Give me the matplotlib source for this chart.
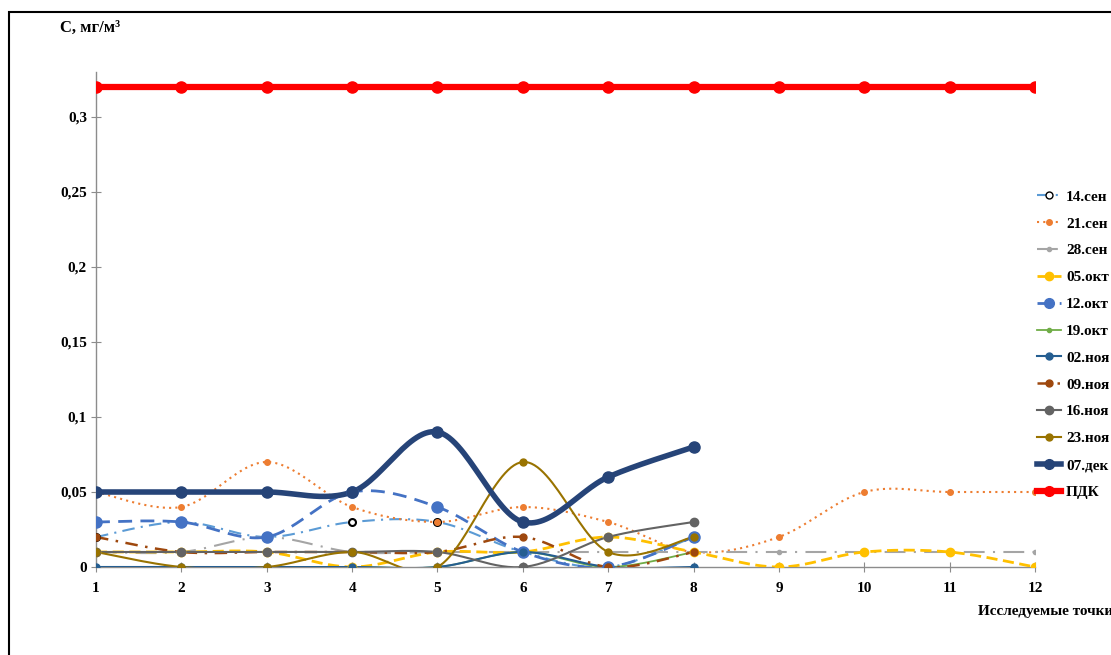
import numpy as np
import matplotlib
matplotlib.use("Agg")
import matplotlib.pyplot as plt
from matplotlib.patches import Rectangle

points = [1, 2, 3, 4, 5, 6, 7, 8, 9, 10, 11, 12]

s_14sen = [0.02, 0.03, 0.02, 0.03, 0.03, 0.01, 0.00, 0.02]
s_21sen = [0.05, 0.04, 0.07, 0.04, 0.03, 0.04, 0.03, 0.01, 0.02, 0.05, 0.05, 0.05]
s_28sen = [0.01, 0.01, 0.02, 0.01, 0.01, 0.01, 0.01, 0.01, 0.01, 0.01, 0.01, 0.01]
s_05okt = [0.01, 0.01, 0.01, 0.00, 0.01, 0.01, 0.02, 0.01, 0.00, 0.01, 0.01, 0.00]
s_12okt = [0.03, 0.03, 0.02, 0.05, 0.04, 0.01, 0.00, 0.02]
s_19okt = [0.00, 0.00, 0.00, 0.00, 0.00, 0.01, 0.00, 0.01]
s_02noy = [0.00, 0.00, 0.00, 0.00, 0.00, 0.01, 0.00, 0.00]
s_09noy = [0.02, 0.01, 0.01, 0.01, 0.01, 0.02, 0.00, 0.01]
s_16noy = [0.01, 0.01, 0.01, 0.01, 0.01, 0.00, 0.02, 0.03]
s_23noy = [0.01, 0.00, 0.00, 0.01, 0.00, 0.07, 0.01, 0.02]
s_07dek = [0.05, 0.05, 0.05, 0.05, 0.09, 0.03, 0.06, 0.08]
s_pdk = [0.32] * 12

yticks = [0, 0.05, 0.1, 0.15, 0.2, 0.25, 0.3]
ytick_labels = ["0", "0,05", "0,1", "0,15", "0,2", "0,25", "0,3"]

series = [
    ("14.сен", s_14sen, dict(color="#5b9bd5", ls=(0, (6, 3, 1, 3)), lw=1.5, marker="o", ms=5, mfc="white", mec="black", mew=1.5)),
    ("21.сен", s_21sen, dict(color="#ed7d31", ls=(0, (1, 2)), lw=1.5, marker="o", ms=4)),
    ("28.сен", s_28sen, dict(color="#a5a5a5", ls=(0, (10, 4, 1, 4)), lw=1.5, marker="o", ms=3)),
    ("05.окт", s_05okt, dict(color="#ffc000", ls=(0, (4, 2)), lw=2, marker="o", ms=6)),
    ("12.окт", s_12okt, dict(color="#4472c4", ls=(0, (5, 3)), lw=2, marker="o", ms=8)),
    ("19.окт", s_19okt, dict(color="#70ad47", ls="-", lw=1.3, marker="o", ms=3)),
    ("02.ноя", s_02noy, dict(color="#255e91", ls="-", lw=1.5, marker="o", ms=5)),
    ("09.ноя", s_09noy, dict(color="#9e480e", ls=(0, (5, 3, 1, 3)), lw=1.8, marker="o", ms=5)),
    ("16.ноя", s_16noy, dict(color="#636363", ls="-", lw=1.5, marker="o", ms=6)),
    ("23.ноя", s_23noy, dict(color="#997300", ls="-", lw=1.5, marker="o", ms=5)),
    ("07.дек", s_07dek, dict(color="#264478", ls="-", lw=4, marker="o", ms=8)),
    ("ПДК", s_pdk, dict(color="#ff0000", ls="-", lw=4.5, marker="o", ms=8)),
]


def smooth(xs, ys, n=30):
    P = np.column_stack([xs, ys]).astype(float)
    P = np.vstack([P[0], P, P[-1]])
    out = []
    for i in range(1, len(P) - 2):
        p0, p1, p2, p3 = P[i - 1], P[i], P[i + 1], P[i + 2]
        t = np.linspace(0, 1, n)[:, None]
        c1 = p1 + (p2 - p0) / 6.0
        c2 = p2 - (p3 - p1) / 6.0
        seg = ((1 - t) ** 3) * p1 + 3 * ((1 - t) ** 2) * t * c1 + 3 * (1 - t) * t ** 2 * c2 + t ** 3 * p2
        out.append(seg if i == 1 else seg[1:])
    out = np.vstack(out)
    return out[:, 0], out[:, 1]


plt.rcParams["font.family"] = ["Liberation Serif", "DejaVu Serif"]
fig = plt.figure(figsize=(11.11, 6.55), dpi=100)
fig.patch.set_facecolor("white")
W, H = 1111, 655
ax = fig.add_axes([96 / W, 1 - 567 / H, (1035 - 96) / W, (567 - 72) / H])

handles = []
for name, vals, st in series:
    xs = points[:len(vals)]
    sx, sy = smooth(xs, vals)
    ax.plot(sx, sy, color=st["color"], ls=st["ls"], lw=st["lw"], zorder=3)
    ax.plot(xs, vals, ls="none", marker=st["marker"], ms=st["ms"],
            mfc=st.get("mfc", st["color"]), mec=st.get("mec", st["color"]),
            mew=st.get("mew", 1), zorder=4)
    h, = ax.plot([], [], color=st["color"], ls=st["ls"], lw=st["lw"], marker=st["marker"],
                 ms=min(st["ms"], 7), mfc=st.get("mfc", st["color"]), mec=st.get("mec", st["color"]))
    handles.append((h, name))

ax.set_xlim(1, 12)
ax.set_ylim(0, 0.33)
ax.set_xticks(points)
ax.set_xticklabels([str(p) for p in points], fontweight="bold", fontsize=11)
ax.set_yticks(yticks)
ax.set_yticklabels(ytick_labels, fontweight="bold", fontsize=11)
for sp in ["top", "right"]:
    ax.spines[sp].set_visible(False)
for sp in ["left", "bottom"]:
    ax.spines[sp].set_color("#8c8c8c")
    ax.spines[sp].set_linewidth(1)
ax.tick_params(axis="both", direction="inout", length=7, color="#8c8c8c", pad=3)
ax.tick_params(axis="x", pad=7)
ax.set_facecolor("none")

fig.text(60 / W, 1 - 28 / H, "С, мг/м³", fontsize=12, fontweight="bold", va="center", ha="left")
fig.text(978 / W, 1 - 612 / H, "Исследуемые точки", fontsize=11, fontweight="bold", va="center", ha="left")

leg = fig.legend([h for h, _ in handles], [n for _, n in handles],
                 loc="upper left", bbox_to_anchor=(1037 / W, 1 - 190 / H),
                 frameon=False, fontsize=11, handlelength=1.6, handletextpad=0.3,
                 labelspacing=0.86, borderpad=0, borderaxespad=0)
for t in leg.get_texts():
    t.set_fontweight("bold")

fig.add_artist(Rectangle((9 / W, -0.1), 1.2, 1 - 12 / H + 0.1, transform=fig.transFigure,
                         fill=False, edgecolor="black", lw=1.5))

fig.savefig("out.png", dpi=100, facecolor="white")
